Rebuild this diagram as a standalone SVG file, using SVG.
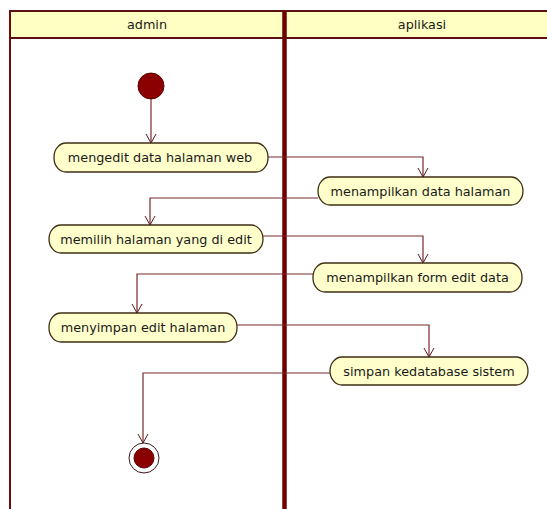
<svg xmlns="http://www.w3.org/2000/svg" width="547" height="509" viewBox="0 0 547 509">
<defs>
<marker id="arr" markerWidth="12" markerHeight="12" refX="10" refY="6" orient="auto" markerUnits="userSpaceOnUse">
<path d="M1,1 L10,6 L1,11" fill="none" stroke="#5a1a1a" stroke-width="1"/>
</marker>
</defs>
<style>
.lane{fill:none;stroke:#6e0a0a;stroke-width:2}
.hdr{fill:#ffffc4;stroke:#5a1010;stroke-width:2}
.act rect{fill:#ffffcc;stroke:#3e2e14;stroke-width:1.3}
.act text,.hdrt{font-family:"DejaVu Sans",sans-serif;font-size:12.8px;fill:#1a1a1a;text-anchor:middle;dominant-baseline:central}
.con path{fill:none;stroke:#7a2a2a;stroke-width:1.2;marker-end:url(#arr)}
</style>
<rect width="547" height="509" fill="#ffffff"/>
<g id="swimlanes">
<rect class="hdr" x="10" y="11" width="545" height="27"/>
<line class="lane" x1="10" y1="11" x2="10" y2="512"/>
<line x1="284.5" y1="11" x2="284.5" y2="512" stroke="#6e0000" stroke-width="4.5"/>
<text class="hdrt" x="147" y="24.5">admin</text>
<text class="hdrt" x="422" y="24.5">aplikasi</text>
</g>
<g id="start">
<circle cx="151" cy="86" r="13" fill="#8b0000" stroke="#5a0000" stroke-width="1"/>
</g>
<g id="a1" class="act">
<rect x="54" y="143" width="214" height="29" rx="12" ry="14"/>
<text x="160" y="157.5">mengedit data halaman web</text>
</g>
<g id="b1" class="act">
<rect x="318" y="177" width="205" height="28" rx="12" ry="14"/>
<text x="420.5" y="191">menampilkan data halaman</text>
</g>
<g id="a2" class="act">
<rect x="49" y="225" width="214" height="28" rx="12" ry="14"/>
<text x="156" y="239">memilih halaman yang di edit</text>
</g>
<g id="b2" class="act">
<rect x="313" y="263" width="209" height="29" rx="12" ry="14"/>
<text x="417.5" y="277.5">menampilkan form edit data</text>
</g>
<g id="a3" class="act">
<rect x="49" y="313" width="188" height="29" rx="12" ry="14"/>
<text x="143" y="327.5">menyimpan edit halaman</text>
</g>
<g id="b3" class="act">
<rect x="330" y="357" width="198" height="28" rx="12" ry="14"/>
<text x="429" y="371">simpan kedatabase sistem</text>
</g>
<g id="end">
<circle cx="144" cy="458" r="15" fill="#ffffff" stroke="#3a1a1a" stroke-width="1"/>
<circle cx="144" cy="458" r="10" fill="#8b0000" stroke="#5a0000" stroke-width="1"/>
</g>
<g id="connectors" class="con">
<path d="M151,99 L151,143"/>
<path d="M268,157 L423,157 L423,177"/>
<path d="M318,198 L150,198 L150,225"/>
<path d="M263,236 L423,236 L423,263"/>
<path d="M313,274 L137,274 L137,313"/>
<path d="M237,325 L429,325 L429,357"/>
<path d="M330,373 L143,373 L143,443"/>
</g>
</svg>
